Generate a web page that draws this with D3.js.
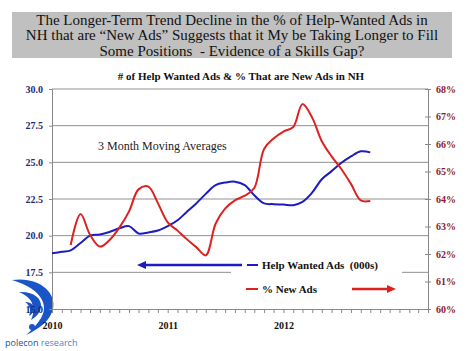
<!DOCTYPE html>
<html>
<head>
<meta charset="utf-8">
<script src="https://cdn.jsdelivr.net/npm/d3@7"></script>
<style>
  body { margin: 0; background: #fff; }
  svg { display: block; font-family: "Liberation Serif", "Times New Roman", serif; }
</style>
</head>
<body>
<svg width="468" height="351"></svg>
<script>
// 3-month moving averages, monthly from Jan 2010
const hwMonths = d3.range(0, 34).map(i => new Date(2010, i, 1));
const helpWanted = [18.8, 18.9, 19.0, 19.5, 20.0, 20.08, 20.25, 20.5, 20.65, 20.15,
                    20.22, 20.35, 20.65, 21.05, 21.6, 22.2, 22.85, 23.45, 23.62, 23.68,
                    23.45, 22.75, 22.2, 22.15, 22.12, 22.08, 22.3, 22.95, 23.85, 24.4,
                    24.95, 25.4, 25.75, 25.68];
const naMonths = d3.range(2, 34).map(i => new Date(2010, i, 1));
const newAds = [62.33, 63.45, 62.7, 62.27, 62.5, 62.95, 63.55, 64.35,
                64.45, 63.85, 63.15, 62.85, 62.55, 62.25, 61.95, 63.1, 63.65, 63.95,
                64.12, 64.4, 65.82, 66.2, 66.45, 66.62, 67.45, 66.95, 66.1, 65.55,
                65.1, 64.55, 63.95, 63.93];
const leftTicks = [15, 17.5, 20, 22.5, 25, 27.5, 30];
const rightTicks = [60, 61, 62, 63, 64, 65, 66, 67, 68];
const yearTicks = [new Date(2010, 0, 1), new Date(2011, 0, 1), new Date(2012, 0, 1)];

const titleLines = [
  "The Longer-Term Trend Decline in the % of Help-Wanted Ads in",
  "NH that are \u201cNew Ads\u201d Suggests that it My be Taking Longer to Fill",
  "Some Positions  - Evidence of a Skills Gap?"
];

const svg = d3.select("svg");
const plotL = 52, plotR = 428, plotT = 89, plotB = 309;

const x = d3.scaleTime().domain([new Date(2010, 0, 1), new Date(2013, 3, 1)]).range([plotL, plotR]);
const yL = d3.scaleLinear().domain([15, 30]).range([plotB, plotT]);
const yR = d3.scaleLinear().domain([60, 68]).range([plotB, plotT]);

// title box
svg.append("rect").attr("x", 12).attr("y", 12).attr("width", 440).attr("height", 46).attr("fill", "#c0c0c0");
svg.append("g").selectAll("text").data(titleLines).join("text")
  .attr("x", 232).attr("y", (d, i) => 24.5 + i * 15.7)
  .attr("text-anchor", "middle").attr("font-size", 15).attr("fill", "#111")
  .style("white-space", "pre")
  .text(d => d);

svg.append("text").attr("x", 241).attr("y", 80).attr("text-anchor", "middle")
  .attr("font-size", 11).attr("font-weight", "bold").attr("fill", "#111")
  .text("# of Help Wanted Ads & % That are New Ads in NH");

// gridlines
svg.append("g").selectAll("line").data(leftTicks.slice(1)).join("line")
  .attr("x1", plotL).attr("x2", plotR)
  .attr("y1", d => yL(d)).attr("y2", d => yL(d))
  .attr("stroke", "#909090").attr("stroke-width", 1);

// logo (drawn under the axis labels)
const logo = svg.append("g").attr("fill", "#1a55c8");
logo.append("path").attr("d", "M12,280 C38,276 57,292 53,309 C50,321 39,329 26,335 C36,326 44,317 44,308 C44,296 32,286 12,280 Z");
logo.append("path").attr("d", "M19,292 C33,291 42,298 41,307 C40,313 36,317 31,320 C33,315 34,311 33,307 C32,300 28,296 19,292 Z");
logo.append("path").attr("d", "M25,302 C31,302 35,305 34,310 C33,313 31,315 29,316 C30,313 30,311 30,309 C29,306 28,304 25,302 Z");
logo.append("circle").attr("cx", 32).attr("cy", 327).attr("r", 3);
const lt = svg.append("text").attr("x", 5).attr("y", 346).attr("font-family", "Open Sans, sans-serif").attr("font-size", 9);
lt.append("tspan").attr("fill", "#1d4f9a").text("polecon");
lt.append("tspan").attr("fill", "#4a86c8").text(" research");

// left axis
const gL = svg.append("g").attr("transform", `translate(${plotL},0)`)
  .call(d3.axisLeft(yL).tickValues(leftTicks).tickFormat(d3.format(".1f")).tickSize(3).tickPadding(6));
gL.selectAll("text").attr("font-size", 10).attr("font-weight", "bold").attr("fill", "#1f2a78")
  .attr("font-family", "Liberation Serif");
gL.selectAll("line, path").attr("stroke", "#888");

// right axis
const gR = svg.append("g").attr("transform", `translate(${plotR},0)`)
  .call(d3.axisRight(yR).tickValues(rightTicks).tickFormat(d => d + "%").tickSize(3).tickPadding(5));
gR.selectAll("text").attr("font-size", 10).attr("font-weight", "bold").attr("fill", "#8b1a2a")
  .attr("font-family", "Liberation Serif");
gR.selectAll("line").attr("x1", -3);
gR.selectAll("line, path").attr("stroke", "#888");

// bottom axis
const gB = svg.append("g").attr("transform", `translate(0,${plotB})`)
  .call(d3.axisBottom(x).ticks(d3.timeMonth.every(1)).tickFormat("").tickSizeInner(4).tickSizeOuter(0));
gB.selectAll("line, path").attr("stroke", "#888");
const gY = svg.append("g").attr("transform", `translate(0,${plotB})`)
  .call(d3.axisBottom(x).tickValues(yearTicks).tickFormat(d3.timeFormat("%Y")).tickSize(0).tickPadding(13));
gY.select("path").remove();
gY.selectAll("text").attr("font-size", 10).attr("font-weight", "bold").attr("fill", "#111")
  .attr("font-family", "Liberation Serif");

svg.append("text").attr("x", 98).attr("y", 150).attr("font-size", 12).attr("fill", "#222")
  .text("3 Month Moving Averages");

// series
const lineHW = d3.line().x((d, i) => x(hwMonths[i])).y(d => yL(d)).curve(d3.curveCatmullRom);
const lineNA = d3.line().x((d, i) => x(naMonths[i])).y(d => yR(d)).curve(d3.curveCatmullRom);
svg.append("path").attr("d", lineHW(helpWanted)).attr("fill", "none").attr("stroke", "#1c1cc0").attr("stroke-width", 2);
svg.append("path").attr("d", lineNA(newAds)).attr("fill", "none").attr("stroke", "#dd2020").attr("stroke-width", 2);

// legend
svg.append("rect").attr("x", 231).attr("y", 252).attr("width", 171).attr("height", 48).attr("fill", "#fff");
const lg = svg.append("g").attr("font-size", 11).attr("font-weight", "bold").attr("fill", "#111");
lg.append("line").attr("x1", 247).attr("x2", 258).attr("y1", 265).attr("y2", 265).attr("stroke", "#1c1cc0").attr("stroke-width", 2);
lg.append("text").attr("x", 262).attr("y", 269).style("white-space", "pre").text("Help Wanted Ads  (000s)");
lg.append("line").attr("x1", 246).attr("x2", 258).attr("y1", 289).attr("y2", 289).attr("stroke", "#dd2020").attr("stroke-width", 2);
lg.append("text").attr("x", 262).attr("y", 293).text("% New Ads");

// arrows
svg.append("line").attr("x1", 144).attr("x2", 242).attr("y1", 265).attr("y2", 265).attr("stroke", "#1c1cc0").attr("stroke-width", 2.5);
svg.append("path").attr("d", "M137,265 L146,261 L146,269 Z").attr("fill", "#1c1cc0");
svg.append("line").attr("x1", 352).attr("x2", 389).attr("y1", 289).attr("y2", 289).attr("stroke", "#dd2020").attr("stroke-width", 2.5);
svg.append("path").attr("d", "M396,289 L387,285 L387,293 Z").attr("fill", "#dd2020");
</script>
</body>
</html>
